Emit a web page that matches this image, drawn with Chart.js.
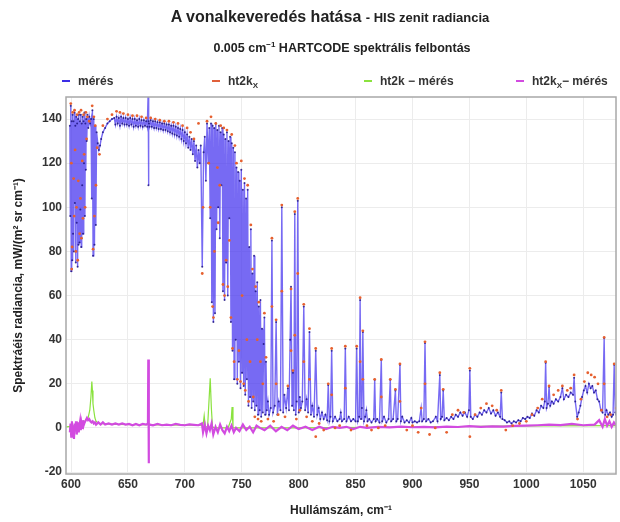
<!DOCTYPE html>
<html>
<head>
<meta charset="utf-8">
<script src="https://cdn.jsdelivr.net/npm/chart.js@4.4.1/dist/chart.umd.min.js"></script>
<style>
  body { margin: 0; background: #fff; font-family: "Liberation Sans", Arial, sans-serif; }
  #wrap { position: relative; width: 620px; height: 522px; }
  #c { position: absolute; left: 0; top: 0; }
  .t { position: absolute; white-space: nowrap; font-weight: bold; color: #222; }
  .ctr { transform: translateX(-50%); }
  .leg { position: absolute; top: 74px; font-size: 12px; font-weight: bold; color: #333; white-space: nowrap; }
  .leg i { display: inline-block; width: 8px; height: 2px; vertical-align: middle; margin-right: 8px; margin-top: -2px; }
  sub { font-size: 8px; }
</style>
</head>
<body>
<div id="wrap">
  <canvas id="c" width="620" height="522"></canvas>
  <div class="t ctr" style="left:330px;top:8px;font-size:16px">A vonalkeveredés hatása <span style="font-size:13px">- HIS zenit radiancia</span></div>
  <div class="t ctr" style="left:342px;top:40px;font-size:12.5px">0.005 cm<sup style="font-size:8px">−1</sup> HARTCODE spektrális felbontás</div>
  <div class="leg" style="left:62px"><i style="background:#3c2ee6"></i>mérés</div>
  <div class="leg" style="left:212px"><i style="background:#e0603a"></i>ht2k<sub>X</sub></div>
  <div class="leg" style="left:364px"><i style="background:#8ae23e"></i>ht2k − mérés</div>
  <div class="leg" style="left:516px"><i style="background:#d24be0"></i>ht2k<sub>X</sub>− mérés</div>
</div>
<script>
// tick labels
const xTicks = [600, 650, 700, 750, 800, 850, 900, 950, 1000, 1050];
const yTicks = [-20, 0, 20, 40, 60, 80, 100, 120, 140];

// mérés (measured HIS radiance)
const meresX = [
  599.0, 599.4, 599.8, 600.2, 600.6, 601.0, 601.4, 601.8, 602.2, 602.6,
  603.0, 603.4, 603.8, 604.2, 604.6, 605.0, 605.4, 605.8, 606.2, 606.6,
  607.0, 607.4, 607.8, 608.2, 608.6, 609.0, 609.4, 609.8, 610.2, 610.6,
  611.0, 611.4, 611.8, 612.2, 612.6, 613.0, 613.4, 613.8, 614.4, 615.2,
  616.0, 616.8, 617.6, 618.2, 618.8, 619.4, 620.0, 620.6, 621.2, 621.8,
  622.5, 623.5, 624.5, 625.5, 626.5, 628, 630, 632, 634, 636,
  638, 639, 640, 641, 642, 643, 644, 645, 646, 647,
  648, 649, 650, 651, 652, 653, 654, 655, 656, 657,
  658, 659, 660, 661, 662, 663, 664, 665, 666, 667,
  667.8, 668.0, 668.2, 668.5, 669, 670, 671, 672, 673, 674,
  675, 676, 677, 678, 679, 680, 681, 682, 683, 684,
  685, 686, 687, 688, 689, 690, 691, 692, 693, 694,
  695, 696, 697, 698, 699, 700, 701, 702, 703, 704,
  705, 706, 707, 708, 709, 710, 711, 712, 713, 714,
  715.3,
  716.5, 717.5, 718.5, 719.5, 720.5, 721.5, 722.3, 723.0, 723.7, 724.4,
  725.1, 725.8, 726.5, 727.2, 727.9, 728.6, 729.3, 730.0, 730.7, 731.4,
  732.1, 732.8, 733.5, 734.2, 734.9, 735.6, 736.3, 737.0, 737.7, 738.4,
  739.1, 739.8, 740.5, 741.2, 741.9, 742.6, 743.3, 744.0, 744.7, 745.4,
  746.1, 746.8, 747.5, 748.2, 748.9, 749.6, 750.3, 751.0, 751.7, 752.4,
  753.1, 753.8, 754.5, 755.2, 755.9, 756.6, 757.3, 758.0, 758.7, 759.4,
  760.1, 760.8, 761.5, 762.2, 762.9, 763.6, 764.3, 765.0, 765.7, 766.4,
  767.1, 767.8, 768.5, 769.2, 769.9, 770.6, 771.3, 772.0, 773, 774,
  775.5, 776.5, 777.5, 779, 780.2, 781.3, 782.5, 784, 785.2, 786.4,
  787.5, 789, 790.5, 791.5, 792.5, 793.3, 794.2, 795, 795.8, 796.6,
  797.4, 798.3, 799.2, 800.1, 801, 802, 803.2, 804.5, 805.7, 807,
  808.3, 809.5, 810.8, 812, 813.5, 815, 816.3, 817.6, 819, 820.5,
  822, 823.5, 825, 826, 827, 828, 829, 830, 832, 834,
  836, 837, 838, 840, 841, 842, 844, 846, 848, 850,
  851, 852, 853.2, 854, 854.8, 855.6, 856.4, 857.4, 858.5, 859.5,
  860.5, 862, 864, 866, 866.8, 867.6, 869, 871, 872.6, 873.4,
  875, 877, 879, 880.5, 881.3, 883, 885, 885.8, 887, 889,
  889.8, 891, 893, 895, 897, 899, 900, 902, 904, 906,
  907.6, 908.5, 910, 911, 912, 914, 916, 918, 920.5, 922,
  924, 924.8, 926, 927, 928, 930, 932, 934, 936, 938,
  940, 942, 944, 946, 948, 949.6, 950.4, 951.2, 953, 955,
  957, 959, 961, 963, 965, 967, 969, 971, 973, 975,
  977, 978, 979, 981, 983, 985, 987, 989, 991, 993,
  995, 997, 999, 1001, 1003, 1005, 1007, 1009, 1011, 1013,
  1015, 1016.2, 1017, 1017.8, 1019, 1020, 1021, 1022.5, 1024, 1026,
  1028, 1030, 1031.7, 1033, 1035, 1037, 1039, 1041, 1042, 1043,
  1044.7, 1046, 1047.5, 1049, 1050.5, 1052, 1053.5, 1055, 1056.5, 1058,
  1059.5, 1061, 1062.5, 1064, 1065.5, 1067, 1068.4, 1069.3, 1070.5, 1072,
  1073.5, 1075, 1076.2, 1077.2, 1078.2, 1079
];
const meresY = [
  137, 96, 146, 71, 139, 76, 142, 88, 139, 80,
  143, 102, 137, 75, 141, 93, 138, 73, 140, 83,
  142, 84, 139, 99, 142, 82, 138, 110, 141, 88,
  139, 120, 143, 96, 138, 117, 140, 130, 142, 136,
  141, 138, 140, 104, 144, 78, 140, 83, 137, 92,
  134, 129, 126, 128, 131, 134, 136, 138, 139, 140,
  140.5, 137.5, 141, 138, 140.5, 137, 141, 138, 140.5, 137.5,
  140.5, 137.5, 140, 137, 140.5, 137.5, 140, 136.5, 140, 137,
  139.5, 136.5, 140, 137, 139.5, 136.5, 139.5, 137, 139, 136.5,
  152, 110, 139, 138, 136.5, 139.5, 136.5, 139, 136, 139,
  136, 138.5, 135.5, 138.5, 135.5, 138, 135, 138, 135, 137.5,
  134.5, 137.5, 134, 137, 133.5, 137, 133, 136.5, 132.5, 136,
  132, 135.5, 131, 135, 130, 134, 129, 133, 127, 132,
  126, 131, 124, 130, 121, 128, 118, 126, 120, 128,
  73,
  125, 132, 112, 138, 120, 136, 95, 138, 57, 137,
  48, 136, 52, 138, 90, 135, 100, 137, 86, 134,
  110, 136, 62, 133, 58, 131, 75, 134, 60, 130,
  95, 132, 48, 129, 35, 127, 22, 125, 40, 118,
  20, 116, 30, 112, 18, 117, 25, 108, 19, 111,
  15, 104, 22, 108, 10, 82, 14, 90, 9, 70,
  12, 78, 8, 62, 10, 66, 6, 55, 8, 58,
  5, 45, 7, 38, 50, 6, 30, 8, 12, 6,
  9, 85, 7, 10, 48, 6, 12, 8, 100, 7,
  15, 9, 18, 8, 40, 64, 10, 25, 8, 97,
  6, 12, 103, 7, 14, 9, 12, 55, 8, 13,
  7, 43.5, 6, 10, 5, 35, 6, 9, 4, 7,
  4, 6, 3.5, 19.5, 3, 5, 35, 3, 5, 3,
  4, 7, 3, 4, 36, 3, 5, 3, 4, 3,
  36, 3, 5, 58, 4, 9, 43.5, 3, 5, 8,
  3, 4, 2.5, 4, 21.8, 3, 4, 2.5, 30.8, 3,
  5, 2.5, 4, 21.8, 3, 4, 17, 3, 4, 28.6,
  3, 5, 2.5, 3.5, 2.5, 4.5, 2.5, 3, 2.5, 3,
  9, 3, 4, 38.5, 3, 4, 2.5, 3, 5, 3,
  24, 4, 5, 17, 3.5, 4.5, 3.5, 5, 4, 6,
  5, 7, 5.5, 7, 5, 8, 26, 5, 4, 6,
  5, 7, 6, 8, 7, 9, 6.5, 8, 5.5, 7,
  5, 16, 4, 3.5, 2.5, 3, 2, 3, 2.5, 3.5,
  3, 4.5, 4, 5, 4.5, 6.5, 5.5, 8, 7, 10,
  9, 12, 29.5, 9, 11, 18.6, 10, 12, 11, 13,
  12, 14, 18, 13, 15, 14, 16, 15, 22.7, 12,
  5, 7, 10, 14, 17, 19, 16, 20, 18, 19,
  16, 17, 13, 12, 8, 7, 40.8, 6, 8, 6,
  7, 5, 6, 28.6, 7, 6
];

// ht2k_X (model, shown as dots)
const ht2kxX = [
  599.8, 600.3, 600.6, 601.0, 601.5, 602.3, 602.8, 603.1, 603.6, 604.3,
  604.8, 605.4, 605.9, 606.4, 607.1, 607.6, 608.3, 608.8, 609.2, 609.9,
  610.5, 611.1, 611.6, 612.4, 613.1, 613.7, 614.4, 616.0, 618.6, 619.4,
  620.1, 620.6, 621.3, 621.9, 623, 625, 628, 632, 636, 640,
  643, 646, 650, 654, 658, 662, 666, 670, 674, 678,
  682, 686, 690, 694, 698, 702, 705, 708, 712, 715.3,
  716, 719.5, 721, 722.3, 723, 724.4, 725.1, 726, 727.2, 728.6,
  729.3, 730.7, 731.5, 733.5, 734.2, 734.9, 736.3, 737.0, 737.7, 739.1,
  740.5, 741.2, 741.9, 743.3, 744, 745.4, 746.1, 747.5, 748.9, 749.6,
  750.3, 751.7, 752.4, 753.1, 754.5, 755.2, 756, 757.3, 758.0, 759.4,
  760.1, 761.5, 762.2, 763.6, 764.3, 765.0, 766.4, 767.1, 768.5, 769.9,
  771.3, 773, 776.5, 776.5, 778, 780.2, 780.2, 782, 785.2, 785.2,
  788, 790.5, 793.3, 793.3, 795, 796.6, 796.6, 798, 799.2, 799.2,
  801, 804.5, 804.5, 807, 809.5, 809.5, 812, 815, 815, 818,
  822, 826, 829, 829, 832, 836, 841, 841, 846, 851,
  854, 854, 856.4, 856.4, 860, 864, 866.8, 870, 872.6, 872.6,
  876, 880.5, 885, 889, 889, 895, 900, 905, 907.6, 911,
  911, 915, 920, 924, 927, 930, 935, 940, 945, 950.4,
  950.4, 955, 960, 965, 970, 974, 978, 982, 988, 994,
  1000, 1005, 1010, 1014, 1017, 1020, 1024, 1028, 1031.7, 1036,
  1039, 1042, 1045, 1048, 1051, 1054, 1057, 1060, 1063, 1066,
  1068.4, 1068.4, 1071, 1074, 1077.2, 1079
];
const ht2kxY = [
  147, 120, 72, 82, 143, 113, 96, 144, 126, 80,
  100, 142, 76, 112, 143, 88, 104, 144, 86, 121,
  95, 142, 124, 100, 143, 131, 141, 139, 146, 81,
  141, 96, 137, 110, 127, 124, 137, 140, 142, 143.5,
  143, 142.5, 142, 141.5, 141.5, 141, 140.5, 140.5, 140, 139.5,
  139, 139, 138.5, 138, 137, 136, 134, 131, 138, 70,
  100, 139, 120, 100, 141, 55, 50, 80, 138, 118,
  93, 110, 137, 65, 136, 60, 76, 135, 64, 85,
  50, 133, 36, 30, 128, 120, 22, 35, 21, 121,
  60, 20, 113, 17, 40, 110, 12, 30, 92, 72,
  14, 5, 64, 40, 4, 57, 30, 3, 20, 52,
  32, 4, 86, 55, 3, 49, 20, 6, 101, 62,
  5, 19, 63, 35, 26, 98, 42, 4, 104, 70,
  8, 56, 30, 5, 45, 22, 3, 36, -4, 2,
  -1, 20, 36, 15, 0, 1, 37, 18, -1, 37,
  59, 30, 44, 22, 1, -1, 22, 0, 31, 14,
  1, 22, 17.5, 29, 12, -1, 1, -2, 9, 39,
  20, -3, 0, 25, 17.5, -2, 6, 8, 7, 27,
  -4, 6, 9, 11, 10, 8, 17, -1, 1, 2,
  3, 6, 9, 13, 30, 19, 15, 17, 19, 17,
  18, 24, 4, 13, 21, 25, 24, 23, 20, 8,
  41, 20, 5, 6, 29, 9
];

// ht2k − mérés
const diffX = [
  596, 605, 610, 613, 615, 616.5, 617.5, 618.3, 618.8, 619.3,
  620, 621, 622, 624, 640, 680, 710, 716, 717, 718,
  720, 721.2, 722.3, 723.3, 724.3, 726, 738, 740.8, 741.5, 742.3,
  746, 800, 900, 1000, 1079
];
const diffY = [
  0.5, 1, 2, 3.5, 4.5, 8, 14, 21, 17, 11,
  8, 4.5, 3, 2, 1.6, 1.4, 1.2, 1.2, 5.5, 0.5,
  0.5, 12, 22.5, 9, 0.5, 0, 0, 4, 9.5, 0,
  0, 0, 0.4, 0.9, 1
];

// ht2k_X − mérés
const diffxX = [
  599, 599.6, 600.2, 600.8, 601.4, 602, 602.6, 603.2, 603.8, 604.4,
  605, 605.6, 606.2, 606.8, 607.4, 608, 608.6, 609.2, 609.8, 610.4,
  611, 612, 613, 614, 615, 616, 617, 618, 619, 620,
  621, 622, 624, 626, 628, 630, 633, 636, 639, 642,
  645, 648, 651, 654, 657, 660, 663, 666, 667.6, 667.9,
  668.2, 668.5, 669, 672, 676, 680, 684, 688, 692, 696,
  700, 704, 708, 712, 715, 716, 717.5, 719, 720.5, 722,
  723.5, 725, 727, 729, 731, 733, 735, 737, 739, 741,
  743, 745, 748, 751, 754, 757, 760, 763, 766, 770,
  775, 780, 785, 790, 795, 800, 806, 812, 818, 824,
  830, 836, 842, 848, 854, 860, 870, 880, 890, 900,
  910, 920, 930, 940, 950, 960, 970, 980, 990, 1000,
  1010, 1020, 1030, 1040, 1050, 1060, 1064, 1067, 1069, 1071,
  1073, 1075, 1077, 1079
];
const diffxY = [
  -2, 2, -4, 3, -3, 1, -5, 2, -1, 3,
  -3, 0, 2.5, -2, 1, 3, -1, 2, 0, 3.5,
  1, 2.5, 3.5, 4.5, 3.5, 4, 3, 2.5, 3, 2,
  2.5, 1.5, 2.5, 1.5, 2.5, 1.5, 2, 1.5, 2, 1.5,
  2, 1.5, 1.8, 1.2, 1.8, 1.2, 1.8, 1.5, 2, 31,
  -16, 1, 1.5, 1.2, 1.8, 1.2, 1.5, 1.2, 1.8, 1.4,
  1.2, 1.6, 1.4, 1.2, 2, -2, 1.5, -2.5, 1, -1,
  2, -3, 0.5, -2, 1.5, -1, -2.5, 0.5, -1.5, 1,
  -2, 0, -1.5, 1.5, -1, 0.5, -2, 1, 0, -1,
  1, -1.5, 0.5, -1, 1, -0.5, 0.5, -1, 0.5, -0.5,
  0.5, 0, 0.5, -0.5, 0.5, 0, 0.5, 0.2, 0.6, 0.3,
  0.5, 0.2, 0.6, 0.4, 0.8, 0.5, 0.7, 0.6, 0.9, 1.0,
  1.2, 1.5, 1.3, 1.8, 1.2, 1.5, 3.5, 0.5, 4, 1,
  3, 0.5, 2.5, 1
];

const pts = (xs, ys) => xs.map((x, i) => ({ x: x, y: ys[i] }));

const frame = {
  id: 'frame',
  afterDraw(chart) {
    const a = chart.chartArea, c = chart.ctx;
    c.save();
    c.strokeStyle = '#a8a8a8';
    c.lineWidth = 1.5;
    c.strokeRect(a.left, a.top, a.right - a.left, a.bottom - a.top);
    c.restore();
  }
};

const tickFont = { family: '"Liberation Sans", Arial, sans-serif', size: 12, weight: 'bold' };
const titleFont = { family: '"Liberation Sans", Arial, sans-serif', size: 12, weight: 'bold' };

new Chart(document.getElementById('c'), {
  type: 'line',
  data: {
    datasets: [
      {
        label: 'ht2k − mérés',
        data: pts(diffX, diffY),
        borderColor: '#8ae23e',
        borderWidth: 1.2,
        pointRadius: 0,
        order: 4
      },
      {
        label: 'mérés',
        data: pts(meresX, meresY),
        borderColor: 'rgba(66, 48, 238, 0.72)',
        borderWidth: 1.4,
        pointRadius: 1,
        pointBorderWidth: 0,
        pointBackgroundColor: 'rgba(30, 20, 130, 0.85)',
        order: 3
      },
      {
        label: 'ht2kX − mérés',
        data: pts(diffxX, diffxY),
        borderColor: '#d24be0',
        borderWidth: 2.2,
        pointRadius: 0,
        order: 2
      },
      {
        label: 'ht2kX',
        data: pts(ht2kxX, ht2kxY),
        showLine: false,
        pointRadius: 1.4,
        pointBorderWidth: 0,
        pointBackgroundColor: '#e6602f',
        borderColor: '#e6602f',
        order: 1
      }
    ]
  },
  options: {
    responsive: false,
    animation: false,
    layout: { padding: { top: 97, right: 1, left: 0, bottom: 0 } },
    plugins: {
      legend: { display: false },
      tooltip: { enabled: false }
    },
    scales: {
      x: {
        type: 'linear',
        min: 595.6,
        max: 1078.8,
        afterBuildTicks: s => { s.ticks = xTicks.map(v => ({ value: v })); },
        afterFit: s => { s.height = 48; },
        grid: { color: '#ececec', drawTicks: false },
        border: { display: false },
        ticks: { font: tickFont, color: '#333', padding: 3, maxRotation: 0, callback: v => String(v) },
        title: { display: true, text: 'Hullámszám, cm⁻¹', font: titleFont, color: '#222', padding: { top: 0, bottom: 4 } }
      },
      y: {
        min: -20.9,
        max: 150,
        afterBuildTicks: s => { s.ticks = yTicks.map(v => ({ value: v })); },
        afterFit: s => { s.width = 66; },
        grid: { color: '#ececec', drawTicks: false },
        border: { display: false },
        ticks: { font: tickFont, color: '#333', padding: 4, callback: v => String(v) },
        title: { display: true, text: 'Spektráéis radiancia, mW/(m² sr cm⁻¹)', font: titleFont, color: '#222', padding: { top: 11, bottom: 0 } }
      }
    }
  },
  plugins: [frame]
});
</script>
</body>
</html>
